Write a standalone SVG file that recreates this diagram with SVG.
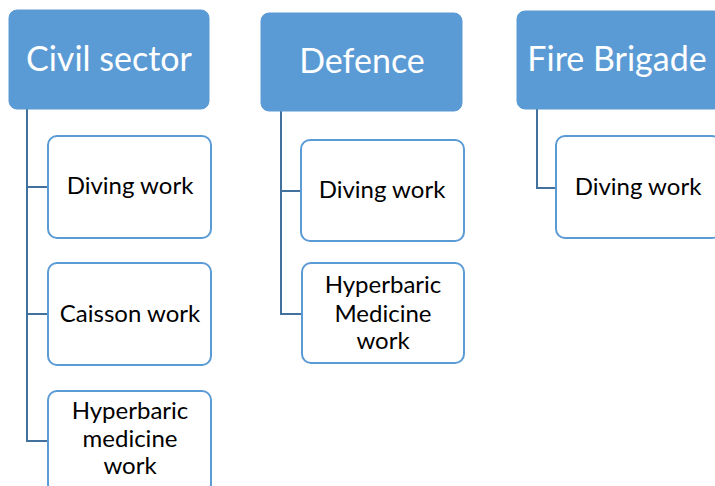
<svg xmlns="http://www.w3.org/2000/svg" width="715" height="486" viewBox="0 0 715 486">
<style>
.hdr{fill:#5B9BD5;stroke:#5B9BD5;stroke-width:1}
.child{fill:#FFFFFF;stroke:#5B9BD5;stroke-width:2}
.ht{font-family:Lato,"Open Sans",sans-serif;font-size:34px;fill:#FFFFFF;text-anchor:middle}
.ct{font-family:Lato,"Open Sans",sans-serif;font-size:24px;fill:#000000;text-anchor:middle}
.conn{fill:none;stroke:#41719C;stroke-width:2}
</style>
<rect width="715" height="486" fill="#FFFFFF"/>
<g id="connectors">
<path class="conn" d="M27,109 V441 H48 M27,187 H48 M27,314 H48"/>
<path class="conn" d="M281,111 V314 H301 M281,191 H301"/>
<path class="conn" d="M537,109 V188 H556"/>
</g>
<g id="civil">
<rect class="hdr" x="9" y="10" width="200" height="99" rx="8"/>
<text class="ht" x="109" y="71">Civil sector</text>
</g>
<g id="civil-diving">
<rect class="child" x="48" y="136" width="163" height="102" rx="9"/>
<text class="ct" x="130" y="194">Diving work</text>
</g>
<g id="civil-caisson">
<rect class="child" x="48" y="263" width="163" height="102" rx="9"/>
<text class="ct" x="130" y="322">Caisson work</text>
</g>
<g id="civil-hyperbaric">
<rect class="child" x="48" y="391" width="163" height="102" rx="9"/>
<text class="ct" x="130" y="419">Hyperbaric</text>
<text class="ct" x="130" y="447">medicine</text>
<text class="ct" x="130" y="474">work</text>
</g>
<g id="defence">
<rect class="hdr" x="261" y="13" width="201" height="98" rx="8"/>
<text class="ht" x="362" y="73">Defence</text>
</g>
<g id="defence-diving">
<rect class="child" x="301" y="140" width="163" height="101" rx="9"/>
<text class="ct" x="382" y="198">Diving work</text>
</g>
<g id="defence-hyperbaric">
<rect class="child" x="302" y="263" width="162" height="100" rx="9"/>
<text class="ct" x="383" y="293">Hyperbaric</text>
<text class="ct" x="383" y="322">Medicine</text>
<text class="ct" x="383" y="349">work</text>
</g>
<g id="fire">
<rect class="hdr" x="517" y="11" width="205" height="98" rx="8"/>
<text class="ht" x="617" y="71">Fire Brigade</text>
</g>
<g id="fire-diving">
<rect class="child" x="556" y="136" width="165" height="102" rx="9"/>
<text class="ct" x="638" y="195">Diving work</text>
</g>
</svg>
